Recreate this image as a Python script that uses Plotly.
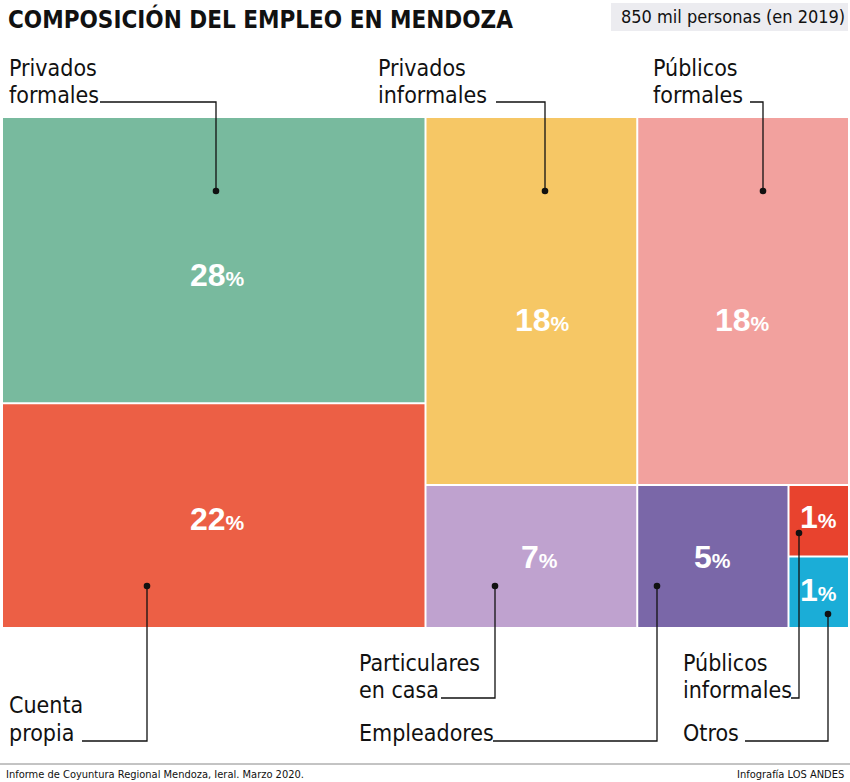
import plotly.graph_objects as go

# ---------------- data ----------------
labels = ["Privados formales", "Cuenta propia", "Privados informales", "Particulares en casa",
          "Públicos formales", "Empleadores", "Públicos informales", "Otros"]
values = [28, 22, 18, 7, 18, 5, 1, 1]
colors = ["#78BA9E", "#EC5F45", "#F6C765", "#BFA2CF", "#F2A19E", "#7A67A8", "#E8432E", "#1BADD7"]
# nesting of the treemap (indices into labels); alternate x / y slicing
structure = [[0, 1], [2, 3], [4, [5, [6, 7]]]]

title = "COMPOSICIÓN DEL EMPLEO EN MENDOZA"
subtitle = "850 mil personas (en 2019)"
source = "Informe de Coyuntura Regional Mendoza, Ieral. Marzo 2020."
credit = "Infografía LOS ANDES"

# ---------------- layout helpers ----------------
W, H = 850, 782
PX0, PX1, PY0, PY1 = 2, 849, 117, 628   # plot area in pixels
GAP = 1.0


def total(node):
    if isinstance(node, list):
        return sum(total(n) for n in node)
    return values[node]


rects = {}


def tile(node, x0, y0, x1, y1, horiz):
    if not isinstance(node, list):
        rects[node] = (x0, y0, x1, y1)
        return
    t = total(node)
    pos = x0 if horiz else y0
    for child in node:
        frac = total(child) / t
        if horiz:
            w = (x1 - x0) * frac
            tile(child, pos, y0, pos + w, y1, not horiz)
            pos += w
        else:
            h = (y1 - y0) * frac
            tile(child, x0, pos, x1, pos + h, not horiz)
            pos += h


tile(structure, 0, 0, 1, 1, True)

dx = GAP / (PX1 - PX0)
dy = GAP / (PY1 - PY0)

fig = go.Figure()
for i, lab in enumerate(labels):
    x0, y0, x1, y1 = rects[i]
    x0 += dx; x1 -= dx; y0 += dy; y1 -= dy
    fig.add_trace(go.Scatter(
        x=[x0, x1, x1, x0, x0], y=[y0, y0, y1, y1, y0],
        fill="toself", fillcolor=colors[i], mode="lines", line=dict(width=0),
        hoverinfo="text", text=f"{lab}: {values[i]}%", showlegend=False))

# percent labels at cell centres (with small visual nudges)
nudge = [(4, -15), (4, -3), (11, -19), (8, -1), (-1, -19), (0, -1), (0, 4), (0, 2)]
annotations = []
for i in range(len(labels)):
    x0, y0, x1, y1 = rects[i]
    annotations.append(dict(
        x=(x0 + x1) / 2, y=(y0 + y1) / 2, xref="x", yref="y",
        text=f"<b>{values[i]}<span style='font-size:21px'>%</span></b>",
        showarrow=False, xshift=nudge[i][0], yshift=nudge[i][1],
        font=dict(family="Liberation Sans, Arial", size=32, color="white")))


def px(x):
    return x / W


def py(y):
    return 1 - y / H


COND = "DejaVu Sans Condensed, Liberation Sans Narrow, DejaVu Sans"
LABFONT = dict(family=COND, size=23, color="#111111")

# label text lines: (text, x_left, y_center)
label_lines = [
    ("Privados", 7, 68), ("formales", 7, 95),
    ("Privados", 376, 68), ("informales", 376, 95),
    ("Públicos", 651, 68), ("formales", 651, 95),
    ("Cuenta", 7, 705), ("propia", 7, 733),
    ("Particulares", 357, 663), ("en casa", 357, 690),
    ("Empleadores", 357, 733),
    ("Públicos", 681, 663), ("informales", 681, 690),
    ("Otros", 681, 733),
]
for t, x, y in label_lines:
    annotations.append(dict(x=px(x), y=py(y), xref="paper", yref="paper", text=t,
                            showarrow=False, xanchor="left", yanchor="middle", font=LABFONT))

# leader lines: dot (x, y), turn y, end x
leaders = [
    (216, 191, 102, 100),
    (545, 191, 102, 496),
    (763, 191, 102, 750),
    (147, 586, 741, 82),
    (495, 586, 698, 441),
    (657, 586, 741, 493),
    (799, 533, 698, 791),
    (828, 614, 741, 745),
]
shapes = []
for xd, yd, yt, xe in leaders:
    shapes.append(dict(type="path", xref="paper", yref="paper",
                       path=f"M {px(xd)},{py(yd)} L {px(xd)},{py(yt)} L {px(xe)},{py(yt)}",
                       line=dict(color="#111111", width=1.3)))
    r = 3.3
    shapes.append(dict(type="circle", xref="paper", yref="paper",
                       x0=px(xd - r), x1=px(xd + r), y0=py(yd + r), y1=py(yd - r),
                       fillcolor="#111111", line=dict(width=0)))

# subtitle box
shapes.append(dict(type="rect", xref="paper", yref="paper", x0=px(611), x1=px(848),
                   y0=py(31), y1=py(3), fillcolor="#ECECF0", line=dict(width=0), layer="below"))
# footer rule
shapes.append(dict(type="line", xref="paper", yref="paper", x0=0, x1=1, y0=py(764), y1=py(764),
                   line=dict(color="#888888", width=1)))

annotations += [
    dict(x=px(6), y=py(19), xref="paper", yref="paper", text=f"<b>{title}</b>", showarrow=False,
         xanchor="left", yanchor="middle",
         font=dict(family=COND, size=24, color="#111111")),
    dict(x=px(619), y=py(17), xref="paper", yref="paper", text=subtitle, showarrow=False,
         xanchor="left", yanchor="middle",
         font=dict(family=COND, size=18, color="#111111")),
    dict(x=px(4), y=py(774), xref="paper", yref="paper", text=source, showarrow=False,
         xanchor="left", yanchor="middle",
         font=dict(family=COND, size=11, color="#111111")),
    dict(x=px(846), y=py(774), xref="paper", yref="paper", text=credit, showarrow=False,
         xanchor="right", yanchor="middle",
         font=dict(family=COND, size=11, color="#111111")),
]

fig.update_layout(
    width=W, height=H, margin=dict(l=0, r=0, t=0, b=0),
    paper_bgcolor="white", plot_bgcolor="white",
    xaxis=dict(range=[0, 1], domain=[PX0 / W, PX1 / W], visible=False, fixedrange=True),
    yaxis=dict(range=[1, 0], domain=[1 - PY1 / H, 1 - PY0 / H], visible=False, fixedrange=True),
    shapes=shapes, annotations=annotations, showlegend=False,
)

fig.write_html("out.html", config={"displayModeBar": False},
               post_script="document.body.style.margin='0';document.body.style.padding='0';")
